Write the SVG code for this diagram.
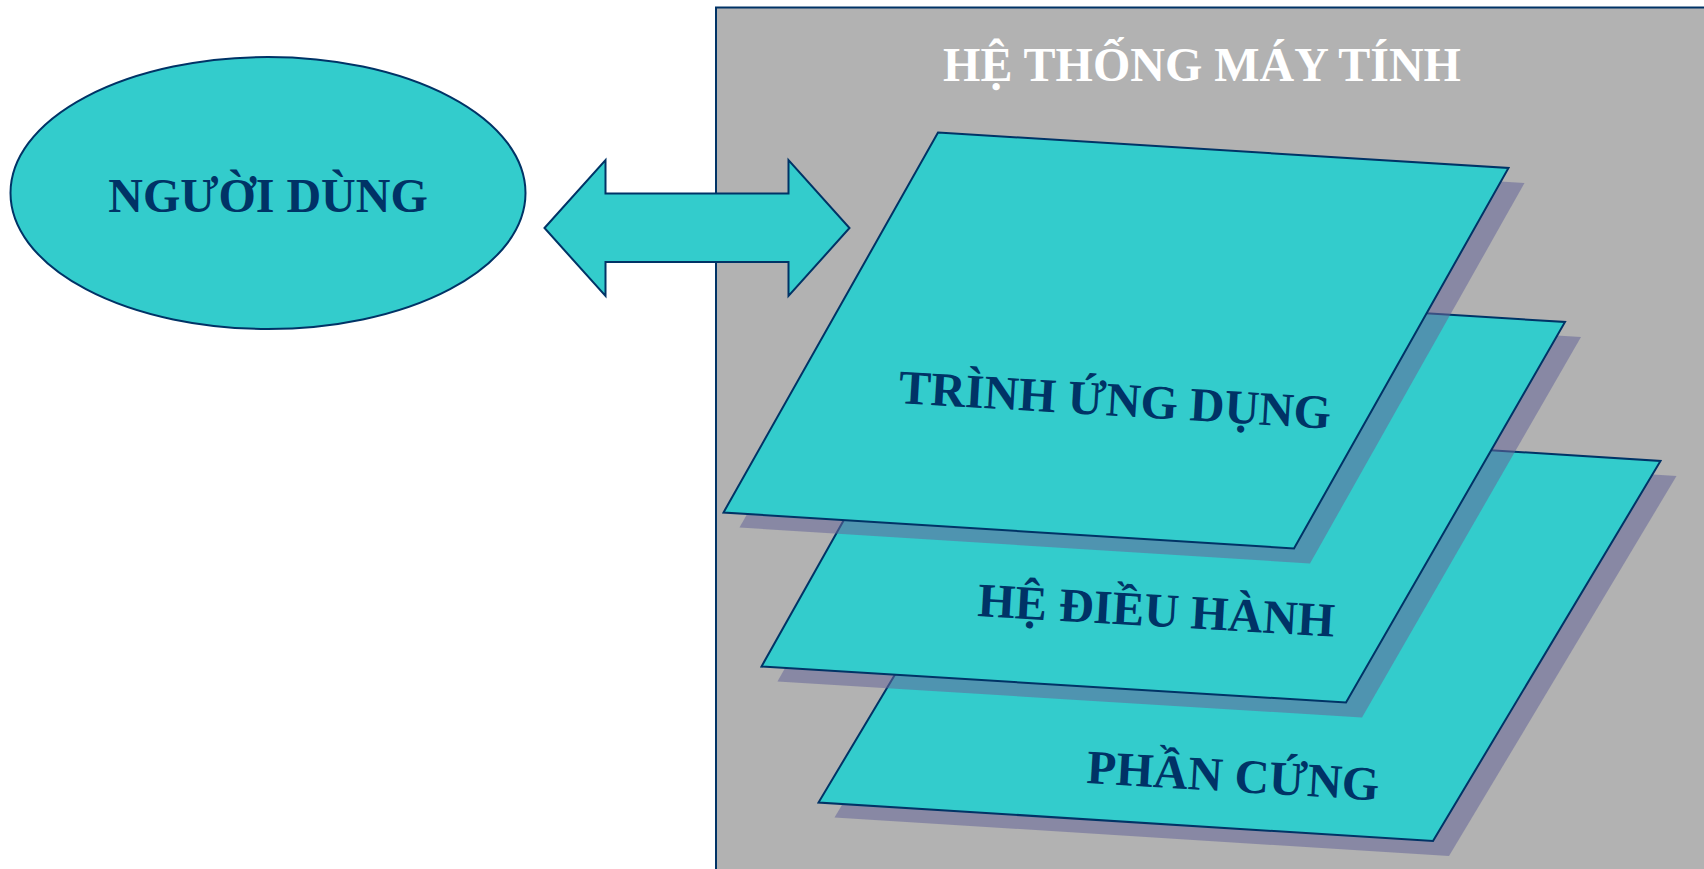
<svg xmlns="http://www.w3.org/2000/svg" width="1704" height="869" viewBox="0 0 1704 869">
<style>
.shape{fill:#33CCCC;stroke:#003366;stroke-width:2;stroke-linejoin:miter}
.shadow{fill:#666699;fill-opacity:0.55;stroke:none}
.lbl{font-family:"Liberation Serif","Times New Roman",serif;font-weight:bold;font-size:48px;fill:#003366}
.title{font-family:"Liberation Serif","Times New Roman",serif;font-weight:bold;font-size:48px;fill:#FFFFFF}
</style>
<rect width="1704" height="869" fill="#FFFFFF"/>
<g id="system">
<rect x="716" y="7.5" width="1100" height="1000" fill="#B2B2B2" stroke="#003366" stroke-width="2"/>
<text class="title" x="1202" y="81" text-anchor="middle">HỆ THỐNG MÁY TÍNH</text>
</g>
<g id="user">
<ellipse class="shape" cx="268" cy="193" rx="257.5" ry="136"/>
<text class="lbl" x="268" y="212" text-anchor="middle">NGƯỜI DÙNG</text>
</g>
<g id="connectors">
<polygon class="shape" points="544.5,228 605.5,160 605.5,193.5 788.5,193.5 788.5,160 849.5,228 788.5,296 788.5,262 605.5,262 605.5,296"/>
</g>
<g id="hardware">
<polygon class="shadow" transform="translate(16,15)" points="1046,422 1660.5,461 1433,841 818.5,802.5"/>
<polygon class="shape" points="1046,422 1660.5,461 1433,841 818.5,802.5"/>
<text class="lbl" transform="translate(1086,783) rotate(3.4)">PHẦN CỨNG</text>
</g>
<g id="os">
<polygon class="shadow" transform="translate(16,15)" points="976,285 1565,322 1346,702.5 761.5,666.5"/>
<polygon class="shape" points="976,285 1565,322 1346,702.5 761.5,666.5"/>
<text class="lbl" transform="translate(977,616) rotate(3.3)">HỆ ĐIỀU HÀNH</text>
</g>
<g id="apps">
<polygon class="shadow" transform="translate(16,15)" points="938,132.5 1508.5,168 1294,548.5 723.5,512.5"/>
<polygon class="shape" points="938,132.5 1508.5,168 1294,548.5 723.5,512.5"/>
<text class="lbl" transform="translate(898,403) rotate(3.4)">TRÌNH ỨNG DỤNG</text>
</g>
</svg>
